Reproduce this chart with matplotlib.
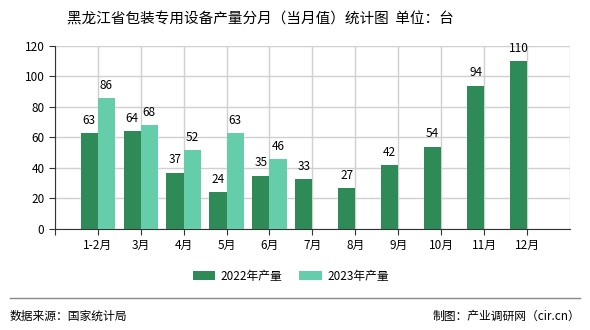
import matplotlib.pyplot as plt
import numpy as np

plt.rcParams['font.family'] = ['Noto Sans CJK SC', 'DejaVu Sans']

# Chart data
months = ["1-2月", "3月", "4月", "5月", "6月", "7月", "8月", "9月", "10月", "11月", "12月"]
output_2022 = [63, 64, 37, 24, 35, 33, 27, 42, 54, 94, 110]
output_2023 = [86, 68, 52, 63, 46]

color_2022 = "#2e8b57"
color_2023 = "#66cdaa"

fig = plt.figure(figsize=(5.9, 3.3), dpi=100)
ax = fig.add_axes([0.093, 0.306, 0.873, 0.555])

x = np.arange(len(months))
width = 0.4

bars_22 = ax.bar(x[:len(output_2022)] - width / 2, output_2022, width, color=color_2022,
                 label="2022年产量", zorder=3)
bars_23 = ax.bar(x[:len(output_2023)] + width / 2, output_2023, width, color=color_2023,
                 label="2023年产量", zorder=3)

# Value labels above the bars
for bars in (bars_22, bars_23):
    for b in bars:
        ax.text(b.get_x() + b.get_width() / 2, b.get_height() + 4, f"{b.get_height():.0f}",
                ha="center", va="bottom", fontsize=8.5, zorder=4)

ax.set_xlim(-1, len(months))
ax.set_ylim(0, 120)
ax.set_yticks(range(0, 121, 20))
ax.set_xticks(np.arange(-1, len(months)))
ax.set_xticklabels([""] + months)
ax.tick_params(axis="both", labelsize=8.5, length=4, color="#333333")
ax.tick_params(axis="x", pad=3)

# Grid lines
ax.grid(True, color="#d0d0d0", linewidth=1, zorder=0)
ax.axvline(len(months), color="#d0d0d0", linewidth=1, zorder=0)
for s in ("top", "right"):
    ax.spines[s].set_visible(False)
ax.spines["left"].set_color("#333333")
ax.spines["bottom"].set_color("#333333")

fig.text(0.441, 0.94, "黑龙江省包装专用设备产量分月（当月值）统计图  单位：台",
         ha="center", va="center", fontsize=10.5)

fig.legend(loc="center", bbox_to_anchor=(0.493, 0.163), ncol=2, frameon=False,
           fontsize=8.5, handlelength=1.9, handleheight=0.8, handletextpad=0.5,
           columnspacing=1.4)

# Footer
fig.add_artist(plt.Line2D([0.017, 0.983], [0.097, 0.097], color="#888888", linewidth=1))
fig.text(0.017, 0.042, "数据来源：国家统计局", ha="left", va="center", fontsize=8.5)
fig.text(0.983, 0.042, "制图：产业调研网（cir.cn）", ha="right", va="center", fontsize=8.5)

fig.savefig("out.png", dpi=100)
plt.close(fig)
